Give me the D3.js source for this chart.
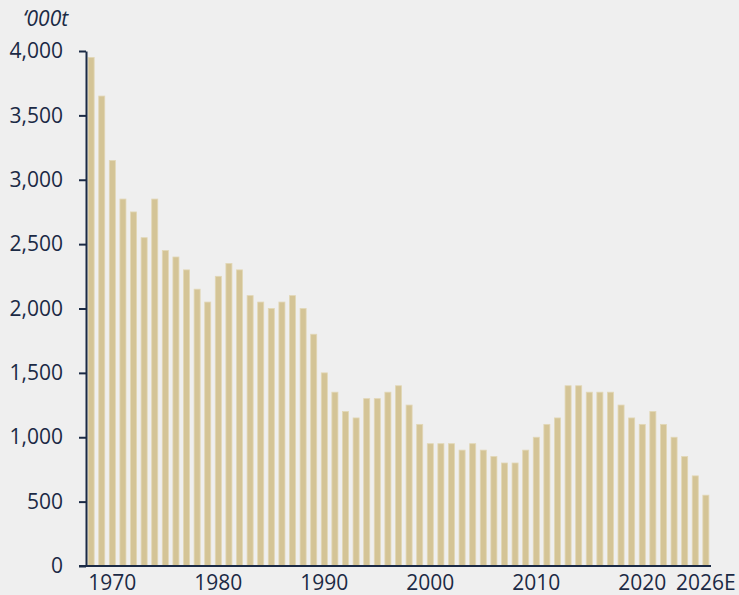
<!DOCTYPE html>
<html>
<head>
<meta charset="utf-8">
<script src="https://cdn.jsdelivr.net/npm/d3@7"></script>
<style>
  body { margin: 0; background: #efefef; }
  svg { display: block; }
  svg text { font-family: "Open Sans", "Noto Sans", sans-serif; }
</style>
</head>
<body>
<svg id="chart"></svg>
<script>
const years = d3.range(1968, 2027);
const values = [
  3950, 3650, 3150, 2850, 2750, 2550, 2850, 2450, 2400, 2300,
  2150, 2050, 2250, 2350, 2300, 2100, 2050, 2000, 2050, 2100,
  2000, 1800, 1500, 1350, 1200, 1150, 1300, 1300, 1350, 1400,
  1250, 1100, 950, 950, 950, 900, 950, 900, 850, 800,
  800, 900, 1000, 1100, 1150, 1400, 1400, 1350, 1350, 1350,
  1250, 1150, 1100, 1200, 1100, 1000, 850, 700, 550
];
const xTicks = [1970, 1980, 1990, 2000, 2010, 2020, 2026];
const yTicks = [0, 500, 1000, 1500, 2000, 2500, 3000, 3500, 4000];
const unitLabel = "\u2018000t";

const width = 739;
const height = 595;
const margin = { top: 51, right: 28, bottom: 29, left: 86 };
const navy = "#1b2a45";
const font = "'Open Sans', 'Noto Sans', sans-serif";
const fontSize = "21px";

const svg = d3.select("#chart").attr("width", width).attr("height", height);

svg.append("rect").attr("width", width).attr("height", height).attr("fill", "#efefef");

const xScale = d3
  .scaleBand()
  .domain(years)
  .range([margin.left, width - margin.right])
  .paddingInner(0.43)
  .paddingOuter(0.2);

const yScale = d3
  .scaleLinear()
  .domain([0, 4000])
  .range([height - margin.bottom, margin.top]);

svg
  .selectAll(".bar")
  .data(years)
  .enter()
  .append("rect")
  .attr("class", "bar")
  .attr("x", (d) => xScale(d))
  .attr("y", (d, i) => yScale(values[i]))
  .attr("width", xScale.bandwidth())
  .attr("height", (d, i) => yScale(0) - yScale(values[i]))
  .attr("fill", "#d4c496")
  .attr("stroke", "#e2d7b6")
  .attr("stroke-width", 0.8);

const yAxis = d3
  .axisLeft(yScale)
  .tickValues(yTicks)
  .tickFormat(d3.format(","))
  .tickSize(7)
  .tickSizeOuter(0)
  .tickPadding(16);

const gy = svg
  .append("g")
  .attr("id", "y-axis")
  .attr("transform", `translate(${margin.left},0)`)
  .call(yAxis)
  .attr("font-family", font);

gy.select(".domain").attr("stroke", navy).attr("stroke-width", 2);
gy.selectAll(".tick line").attr("stroke", navy).attr("stroke-width", 2);
gy.selectAll(".tick text")
  .attr("fill", navy)
  .style("font-family", font)
  .style("font-size", fontSize);

const xAxis = d3
  .axisBottom(xScale)
  .tickValues(xTicks)
  .tickFormat((d) => (d === 2026 ? "2026E" : d))
  .tickSize(0)
  .tickPadding(9);

const gx = svg
  .append("g")
  .attr("id", "x-axis")
  .attr("transform", `translate(0,${height - margin.bottom})`)
  .call(xAxis)
  .attr("font-family", font);

gx.select(".domain").remove();
gx.append("line")
  .attr("x1", margin.left - 7)
  .attr("x2", width - margin.right)
  .attr("stroke", navy)
  .attr("stroke-width", 2);
gx.selectAll(".tick text")
  .attr("fill", navy)
  .style("font-family", font)
  .style("font-size", fontSize);

svg
  .append("text")
  .attr("x", 23)
  .attr("y", 26)
  .attr("fill", navy)
  .style("font-family", font)
  .style("font-size", fontSize)
  .style("font-style", "italic")
  .text(unitLabel);
</script>
</body>
</html>
